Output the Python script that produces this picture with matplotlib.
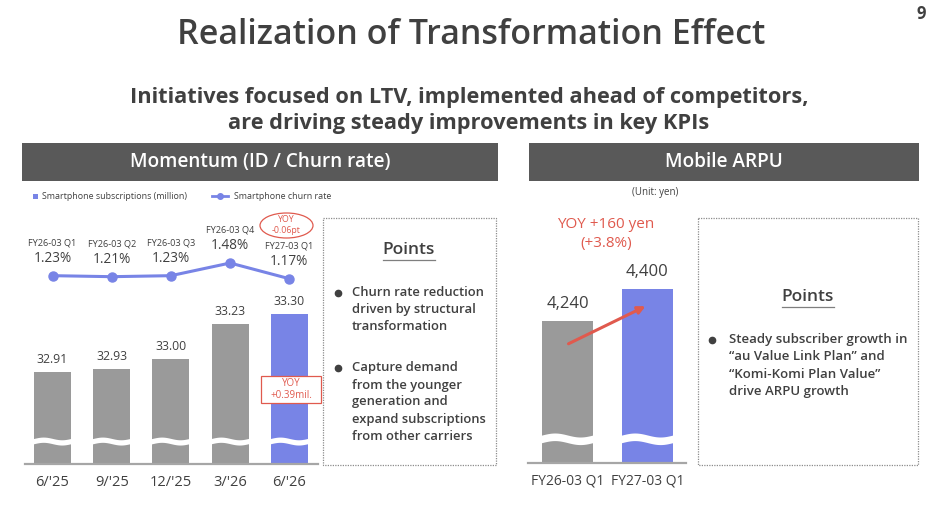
import numpy as np
import matplotlib
matplotlib.use("Agg")
import matplotlib.pyplot as plt
from matplotlib.patches import Rectangle, Ellipse, FancyArrowPatch

plt.rcParams['font.family'] = ['Open Sans', 'DejaVu Sans']

# ---------- data ----------
months = ["6/'25", "9/'25", "12/'25", "3/'26", "6/'26"]
subs = [32.91, 32.93, 33.00, 33.23, 33.30]
quarters = ["FY26-03 Q1", "FY26-03 Q2", "FY26-03 Q3", "FY26-03 Q4", "FY27-03 Q1"]
churn = [1.23, 1.21, 1.23, 1.48, 1.17]
arpu_labels = ["FY26-03 Q1", "FY27-03 Q1"]
arpu = [4240, 4400]

W, H = 940, 518
GRAY = '#9a9a9a'
BLUE = '#7884e6'
RED = '#e05a4e'
TXT = '#404040'
HEAD = '#595959'

fig = plt.figure(figsize=(W / 100, H / 100), dpi=100)
# full-figure axes in pixel coords, y downwards; kept on top of the chart axes
bg = fig.add_axes([0, 0, 1, 1])
bg.set_xlim(0, W)
bg.set_ylim(H, 0)
bg.axis('off')
bg.set_zorder(10)
bg.patch.set_visible(False)


def px_axes(x0, y0, x1, y1):
    # pixel box -> figure axes
    return fig.add_axes([x0 / W, 1 - y1 / H, (x1 - x0) / W, (y1 - y0) / H])


# ---------- titles ----------
bg.text(471, 35, "Realization of Transformation Effect", ha='center', va='center',
        fontsize=24.5, fontweight='semibold', color=TXT)
bg.text(921, 14, "9", ha='center', va='center', fontsize=12, fontweight='bold', color=TXT)
bg.text(469, 98, "Initiatives focused on LTV, implemented ahead of competitors,",
        ha='center', va='center', fontsize=15.7, fontweight='bold', color=TXT)
bg.text(469, 123, "are driving steady improvements in key KPIs",
        ha='center', va='center', fontsize=15.7, fontweight='bold', color=TXT)

# header bars
for (x0, x1, label) in [(22, 498, "Momentum (ID / Churn rate)"), (529, 919, "Mobile ARPU")]:
    bg.add_patch(Rectangle((x0, 143), x1 - x0, 38, color=HEAD, lw=0))
    bg.text((x0 + x1) / 2, 162, label, ha='center', va='center', fontsize=13.7,
            color='white', fontweight='semibold')

# legend
bg.add_patch(Rectangle((32.5, 193.5), 5.5, 5.5, color=BLUE, lw=0))
bg.text(42, 196.5, "Smartphone subscriptions (million)", ha='left', va='center',
        fontsize=6.4, color=TXT)
bg.plot([212, 228], [196, 196], color=BLUE, lw=2)
bg.plot([220], [196], 'o', color=BLUE, ms=4)
bg.text(234, 196.5, "Smartphone churn rate", ha='left', va='center', fontsize=6.4, color=TXT)

# ---------- left: churn line ----------
xlim_l = (-0.465, 4.485)
x = np.arange(len(months))
ax_line = px_axes(25, 250, 318, 290)
ax_line.set_xlim(*xlim_l)
ax_line.set_ylim(0.947, 1.737)
ax_line.axis('off')
ax_line.plot(x, churn, color=BLUE, lw=2.2, marker='o', ms=6.5, zorder=3)
for xi, q, c in zip(x, quarters, churn):
    ax_line.annotate(f"{c:.2f}%", (xi, c), xytext=(0, 12.5), textcoords='offset points',
                     ha='center', va='center', fontsize=9.8, color=TXT)
    ax_line.annotate(q, (xi, c), xytext=(0, 23.5), textcoords='offset points',
                     ha='center', va='center', fontsize=6.6, color=TXT)

# YOY ellipse for churn
bg.add_patch(Ellipse((286.5, 225.5), 53, 25, fill=False, ec=RED, lw=0.9))
bg.text(286.5, 220, "YOY", ha='center', va='center', fontsize=6.3, color=RED)
bg.text(286.5, 230.5, "-0.06pt", ha='center', va='center', fontsize=6.3, color=RED)

# ---------- left: subscription bars ----------
ax_bar = px_axes(25, 300, 318, 464)
ax_bar.set_xlim(*xlim_l)
base_l = 32.30
ax_bar.set_ylim(base_l, 33.39)
bw = 0.625
colors_l = [GRAY] * (len(subs) - 1) + [BLUE]
ax_bar.bar(x, np.array(subs) - base_l, bottom=base_l, width=bw, color=colors_l, lw=0)
for xi, v in zip(x, subs):
    ax_bar.text(xi, v + 0.04, f"{v:.2f}", ha='center', va='bottom', fontsize=8.8, color=TXT)
# wavy break band
wx = np.linspace(-bw / 2 - 0.02, bw / 2 + 0.02, 60)
wave = 0.009 * np.sin((wx + bw / 2) / bw * 2 * np.pi)
for xi in x:
    ax_bar.fill_between(xi + wx, 32.435 + wave, 32.47 + wave, color='white', lw=0)
ax_bar.axis('off')
bg.plot([25, 318], [464, 464], color='#a6a6a6', lw=1.6)
for xi, m in zip(x, months):
    px = 52.5 + xi * 59.2
    bg.text(px, 482, m, ha='center', va='center', fontsize=10.5, color=TXT)

# YOY box for subscriptions
bg.add_patch(Rectangle((261, 376), 60, 27, fill=True, fc='white', ec=RED, lw=0.9))
bg.text(291, 383.5, "YOY", ha='center', va='center', fontsize=7, color=RED)
bg.text(291, 395, "+0.39mil.", ha='center', va='center', fontsize=7, color=RED)

# ---------- left points box ----------
bg.add_patch(Rectangle((323, 218), 173, 247, fill=False, ec='#8c8c8c', lw=0.9, ls=(0, (1, 1))))
bg.text(409, 250, "Points", ha='center', va='center', fontsize=12.5, fontweight='semibold', color=TXT)
bg.plot([383, 435], [260, 260], color='#7f7f7f', lw=0.9)
bullets_l = [["Churn rate reduction", "driven by structural", "transformation"],
             ["Capture demand", "from the younger", "generation and",
              "expand subscriptions", "from other carriers"]]
for lines, y0 in zip(bullets_l, [293, 368]):
    bg.plot([337.5], [y0], 'o', color='#404040', ms=4.5)
    for i, ln in enumerate(lines):
        bg.text(352, y0 + i * 17, ln, ha='left', va='center', fontsize=9.4,
                fontweight='semibold', color=TXT)

# ---------- right: ARPU ----------
bg.text(655, 193, "(Unit: yen)", ha='center', va='center', fontsize=7, color=TXT)
bg.text(606, 224, "YOY +160 yen", ha='center', va='center', fontsize=11, color=RED)
bg.text(606, 243, "(+3.8%)", ha='center', va='center', fontsize=11, color=RED)

ax_arpu = px_axes(528, 260, 686, 463)
xa = np.arange(len(arpu))
# centers at px 567.5 and 647.5 -> 80 px spacing
ax_arpu.set_xlim(-(567.5 - 528) / 80, 1 + (686 - 647.5) / 80)
base_r = 3530
ax_arpu.set_ylim(base_r, base_r + (463 - 260) / 0.2)
bw_r = 51 / 80
ax_arpu.bar(xa, np.array(arpu) - base_r, bottom=base_r, width=bw_r, color=[GRAY, BLUE], lw=0)
for xi, v in zip(xa, arpu):
    ax_arpu.text(xi, v + 45, f"{v:,}", ha='center', va='bottom', fontsize=12, color=TXT)
wxr = np.linspace(-bw_r / 2 - 0.02, bw_r / 2 + 0.02, 60)
waver = 10 * np.sin((wxr + bw_r / 2) / bw_r * 2 * np.pi)
for xi in xa:
    ax_arpu.fill_between(xi + wxr, 3632 + waver, 3670 + waver, color='white', lw=0)
ax_arpu.axis('off')
bg.plot([528, 686], [463, 463], color='#a6a6a6', lw=1.6)
for xi, lab in zip(xa, arpu_labels):
    bg.text(567.5 + xi * 80, 481, lab, ha='center', va='center', fontsize=10, color=TXT)
bg.add_patch(FancyArrowPatch((566, 345), (648, 305), arrowstyle='-|>', mutation_scale=11,
                             color=RED, lw=2.2))

# right points box
bg.add_patch(Rectangle((698, 218), 220, 247, fill=False, ec='#8c8c8c', lw=0.9, ls=(0, (1, 1))))
bg.text(808, 297, "Points", ha='center', va='center', fontsize=12.5, fontweight='semibold', color=TXT)
bg.plot([782, 834], [307, 307], color='#7f7f7f', lw=0.9)
bullet_r = ["Steady subscriber growth in", "\u201cau Value Link Plan\u201d and",
            "\u201cKomi-Komi Plan Value\u201d", "drive ARPU growth"]
bg.plot([711.5], [340], 'o', color='#404040', ms=4.5)
for i, ln in enumerate(bullet_r):
    bg.text(729, 340 + i * 17, ln, ha='left', va='center', fontsize=9.5,
            fontweight='semibold', color=TXT)

fig.savefig("out.png", dpi=100)
